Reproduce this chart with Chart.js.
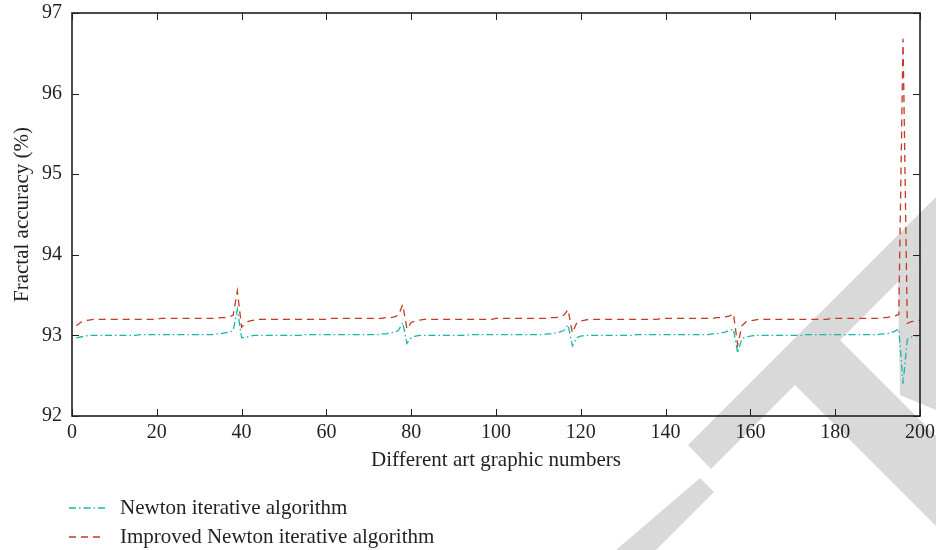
<!DOCTYPE html>
<html>
<head>
<meta charset="utf-8">
<script src="https://cdn.jsdelivr.net/npm/chart.js@4.4.1/dist/chart.umd.min.js"></script>
<style>
    html, body { margin: 0; padding: 0; background: #fff; }
    #wrap { position: relative; width: 936px; height: 550px; }
    #legend {
        position: absolute; left: 69px; top: 493px;
        font-family: "Liberation Serif", serif; font-size: 21px; color: #231f20;
    }
    .row { display: flex; align-items: center; height: 29px; }
    .row svg { margin-right: 15px; }
</style>
</head>
<body>
<div id="wrap">
    <canvas id="chart" width="936" height="550"></canvas>
    <div id="legend"></div>
</div>
<script>
// Data
const xTicks = [0, 20, 40, 60, 80, 100, 120, 140, 160, 180, 200];
const yTicks = [92, 93, 94, 95, 96, 97];
const graphicNumbers = Array.from({ length: 200 }, (_, i) => i + 1);

const newtonValues = [
    92.97, 92.98, 92.99, 93.00, 93.00, 93.00, 93.00, 93.00, 93.00, 93.00,
    93.00, 93.00, 93.00, 93.00, 93.00, 93.01, 93.01, 93.01, 93.01, 93.01,
    93.01, 93.01, 93.01, 93.01, 93.01, 93.01, 93.01, 93.01, 93.01, 93.01,
    93.01, 93.01, 93.01, 93.02, 93.02, 93.03, 93.04, 93.06, 93.32, 92.97,
    92.98, 92.99, 93.00, 93.00, 93.00, 93.00, 93.00, 93.00, 93.00, 93.00,
    93.00, 93.00, 93.00, 93.00, 93.01, 93.01, 93.01, 93.01, 93.01, 93.01,
    93.01, 93.01, 93.01, 93.01, 93.01, 93.01, 93.01, 93.01, 93.01, 93.01,
    93.01, 93.01, 93.02, 93.02, 93.03, 93.04, 93.06, 93.16, 92.90, 92.97,
    92.99, 93.00, 93.00, 93.00, 93.00, 93.00, 93.00, 93.00, 93.00, 93.00,
    93.00, 93.00, 93.00, 93.01, 93.01, 93.01, 93.01, 93.01, 93.01, 93.01,
    93.01, 93.01, 93.01, 93.01, 93.01, 93.01, 93.01, 93.01, 93.01, 93.01,
    93.01, 93.02, 93.02, 93.03, 93.04, 93.06, 93.13, 92.87, 92.97, 92.99,
    93.00, 93.00, 93.00, 93.00, 93.00, 93.00, 93.00, 93.00, 93.00, 93.00,
    93.00, 93.00, 93.01, 93.01, 93.01, 93.01, 93.01, 93.01, 93.01, 93.01,
    93.01, 93.01, 93.01, 93.01, 93.01, 93.01, 93.01, 93.01, 93.01, 93.01,
    93.02, 93.02, 93.03, 93.04, 93.06, 93.08, 92.78, 92.96, 92.98, 92.99,
    93.00, 93.00, 93.00, 93.00, 93.00, 93.00, 93.00, 93.00, 93.00, 93.00,
    93.00, 93.00, 93.01, 93.01, 93.01, 93.01, 93.01, 93.01, 93.01, 93.01,
    93.01, 93.01, 93.01, 93.01, 93.01, 93.01, 93.01, 93.01, 93.01, 93.01,
    93.02, 93.02, 93.03, 93.05, 93.08, 92.40, 92.95, 92.98, 92.99, 93.00
];

const improvedValues = [
    93.12, 93.16, 93.18, 93.19, 93.20, 93.20, 93.20, 93.20, 93.20, 93.20,
    93.20, 93.20, 93.20, 93.20, 93.20, 93.20, 93.20, 93.20, 93.20, 93.20,
    93.21, 93.21, 93.21, 93.21, 93.21, 93.21, 93.21, 93.21, 93.21, 93.21,
    93.21, 93.21, 93.21, 93.21, 93.22, 93.22, 93.23, 93.25, 93.55, 93.10,
    93.16, 93.18, 93.19, 93.20, 93.20, 93.20, 93.20, 93.20, 93.20, 93.20,
    93.20, 93.20, 93.20, 93.20, 93.20, 93.20, 93.20, 93.20, 93.20, 93.20,
    93.21, 93.21, 93.21, 93.21, 93.21, 93.21, 93.21, 93.21, 93.21, 93.21,
    93.21, 93.21, 93.21, 93.22, 93.22, 93.23, 93.25, 93.38, 93.08, 93.16,
    93.18, 93.19, 93.20, 93.20, 93.20, 93.20, 93.20, 93.20, 93.20, 93.20,
    93.20, 93.20, 93.20, 93.20, 93.20, 93.20, 93.20, 93.20, 93.20, 93.21,
    93.21, 93.21, 93.21, 93.21, 93.21, 93.21, 93.21, 93.21, 93.21, 93.21,
    93.21, 93.21, 93.22, 93.22, 93.23, 93.25, 93.32, 93.03, 93.15, 93.18,
    93.19, 93.20, 93.20, 93.20, 93.20, 93.20, 93.20, 93.20, 93.20, 93.20,
    93.20, 93.20, 93.20, 93.20, 93.20, 93.20, 93.20, 93.20, 93.21, 93.21,
    93.21, 93.21, 93.21, 93.21, 93.21, 93.21, 93.21, 93.21, 93.21, 93.21,
    93.21, 93.22, 93.22, 93.23, 93.24, 93.27, 92.88, 93.12, 93.17, 93.18,
    93.19, 93.20, 93.20, 93.20, 93.20, 93.20, 93.20, 93.20, 93.20, 93.20,
    93.20, 93.20, 93.20, 93.20, 93.20, 93.20, 93.20, 93.20, 93.21, 93.21,
    93.21, 93.21, 93.21, 93.21, 93.21, 93.21, 93.21, 93.21, 93.21, 93.21,
    93.22, 93.22, 93.23, 93.24, 93.26, 96.68, 93.15, 93.17, 93.18, 93.19
];

const seriesNames = ['Newton iterative algorithm', 'Improved Newton iterative algorithm'];
const seriesColors = ['#1bb5aa', '#c23b22'];
const seriesDashes = [[7, 3, 1.5, 3], [7, 5]];

const FONT = '"Liberation Serif", "Times New Roman", serif';
const INK = '#231f20';

// gray watermark behind the plot
const watermark = {
    id: 'watermark',
    beforeDraw(chart) {
        const ctx = chart.ctx;
        const shapes = [
            [[688, 445], [936, 197], [936, 244], [711, 469]],
            [[898, 282], [936, 244], [936, 410], [900, 395]],
            [[795, 385], [840, 340], [936, 436], [936, 526]],
            [[700, 478], [714, 492], [656, 550], [616, 550]]
        ];
        ctx.save();
        ctx.fillStyle = '#d9d9d9';
        shapes.forEach(s => {
            ctx.beginPath();
            ctx.moveTo(s[0][0], s[0][1]);
            s.slice(1).forEach(p => ctx.lineTo(p[0], p[1]));
            ctx.closePath();
            ctx.fill();
        });
        ctx.restore();
    }
};

// box frame with inward ticks on all four sides
const frame = {
    id: 'frame',
    afterDraw(chart) {
        const { ctx, chartArea: a, scales: { x, y } } = chart;
        const len = 7;
        ctx.save();
        ctx.strokeStyle = INK;
        ctx.lineWidth = 1;
        ctx.beginPath();
        xTicks.forEach(v => {
            const px = Math.round(x.getPixelForValue(v)) + 0.5;
            ctx.moveTo(px, a.bottom); ctx.lineTo(px, a.bottom - len);
            ctx.moveTo(px, a.top); ctx.lineTo(px, a.top + len);
        });
        yTicks.forEach(v => {
            const py = Math.round(y.getPixelForValue(v)) + 0.5;
            ctx.moveTo(a.left, py); ctx.lineTo(a.left + len, py);
            ctx.moveTo(a.right, py); ctx.lineTo(a.right - len, py);
        });
        ctx.stroke();
        ctx.lineWidth = 1.6;
        ctx.strokeRect(a.left, a.top, a.right - a.left, a.bottom - a.top);
        ctx.restore();
    }
};

const datasets = [newtonValues, improvedValues].map((vals, i) => ({
    label: seriesNames[i],
    data: graphicNumbers.map((n, j) => ({ x: n, y: vals[j] })),
    borderColor: seriesColors[i],
    borderDash: seriesDashes[i],
    borderWidth: 1.3,
    pointRadius: 0,
    fill: false,
    tension: 0
}));

new Chart(document.getElementById('chart'), {
    type: 'line',
    data: { datasets: datasets },
    options: {
        responsive: false,
        animation: false,
        layout: { padding: { left: 0, right: 16, top: 13, bottom: 74 } },
        plugins: { legend: { display: false }, tooltip: { enabled: false } },
        scales: {
            x: {
                type: 'linear', min: 0, max: 200,
                afterBuildTicks: s => { s.ticks = xTicks.map(v => ({ value: v })); },
                afterFit: s => { s.height = 60; s.paddingLeft = 0; s.paddingRight = 0; },
                grid: { display: false, drawTicks: false },
                border: { display: false },
                ticks: { color: INK, font: { family: FONT, size: 20 }, padding: 5, maxRotation: 0 },
                title: {
                    display: true, text: 'Different art graphic numbers', color: INK,
                    font: { family: FONT, size: 21 }, padding: { top: 0, bottom: 3 }
                }
            },
            y: {
                min: 92, max: 97,
                afterBuildTicks: s => { s.ticks = yTicks.map(v => ({ value: v })); },
                afterFit: s => { s.width = 72; s.paddingTop = 0; s.paddingBottom = 0; },
                grid: { display: false, drawTicks: false },
                border: { display: false },
                ticks: { color: INK, font: { family: FONT, size: 20 }, padding: 10 },
                title: {
                    display: true, text: 'Fractal accuracy (%)', color: INK,
                    font: { family: FONT, size: 21 }, padding: { top: 10, bottom: 0 }
                }
            }
        }
    },
    plugins: [watermark, frame]
});

// legend below the chart, two rows
const legend = document.getElementById('legend');
seriesNames.forEach((name, i) => {
    const row = document.createElement('div');
    row.className = 'row';
    row.innerHTML = `<svg width="36" height="10"><line x1="0" y1="5" x2="36" y2="5"
        stroke="${seriesColors[i]}" stroke-width="1.3" stroke-dasharray="${seriesDashes[i].join(' ')}"/></svg><span>${name}</span>`;
    legend.appendChild(row);
});
</script>
</body>
</html>
